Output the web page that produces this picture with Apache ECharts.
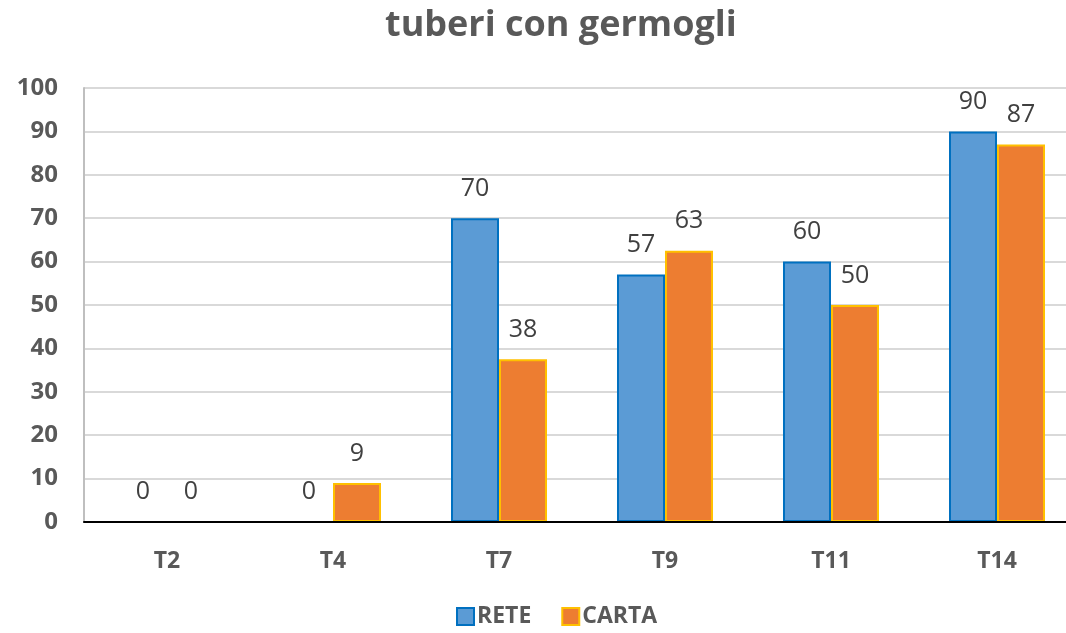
<!DOCTYPE html>
<html>
<head>
<meta charset="utf-8">
<script src="https://cdn.jsdelivr.net/npm/echarts@6/dist/echarts.min.js"></script>
<style>
  html, body {margin: 0; padding: 0; background: #fff; overflow: hidden;}
  #chart {width: 1080px; height: 633px;}
</style>
</head>
<body>
<div id="chart"></div>
<script>
const categories = ['T2', 'T4', 'T7', 'T9', 'T11', 'T14']
const reteValues = [0, 0, 70, 57, 60, 90]
const cartaValues = [0, 9, 37.5, 62.5, 50, 87]
const yTicks = [0, 10, 20, 30, 40, 50, 60, 70, 80, 90, 100]

const font = '"Open Sans", "Liberation Sans", sans-serif'
const labelColor = '#595959'

const barLabel = {
  show: true,
  position: 'top',
  distance: 17,
  color: '#404040',
  fontSize: 25,
  fontFamily: font,
  formatter: p => Math.round(p.value)
}

// plot area runs a little past the right edge of the window, as in the original
const chart = echarts.init(document.getElementById('chart'))
chart.setOption({
  backgroundColor: '#fff',
  animation: false,
  title: {
    text: 'tuberi con germogli',
    left: 380,
    top: 3,
    textStyle: {color: labelColor, fontSize: 36, fontWeight: 'bold', fontFamily: font}
  },
  legend: {
    bottom: 0,
    left: 451,
    itemWidth: 17,
    itemHeight: 17,
    itemGap: 30,
    icon: 'rect',
    textStyle: {color: labelColor, fontSize: 23, fontWeight: 'bold', fontFamily: font, padding: [0, 0, 0, -2]},
    data: ['RETE', 'CARTA']
  },
  grid: {left: 84, right: 0, top: 88, bottom: 111},
  xAxis: {
    type: 'category',
    data: categories,
    z: 5,
    axisLine: {lineStyle: {color: '#000', width: 2}},
    axisTick: {show: false},
    axisLabel: {color: labelColor, fontSize: 23, fontWeight: 'bold', fontFamily: font, margin: 28}
  },
  yAxis: {
    type: 'value',
    min: yTicks[0],
    max: yTicks[yTicks.length - 1],
    interval: 10,
    axisLine: {show: true, lineStyle: {color: '#bfbfbf', width: 2}},
    axisTick: {show: false},
    splitLine: {lineStyle: {color: '#d9d9d9', width: 2}},
    axisLabel: {color: labelColor, fontSize: 24, fontWeight: 'bold', fontFamily: font, margin: 26}
  },
  series: [
    {
      name: 'RETE',
      type: 'bar',
      data: reteValues,
      barWidth: 48,
      barGap: '0%',
      itemStyle: {color: '#5B9BD5', borderColor: '#0070C0', borderWidth: 2},
      label: barLabel
    },
    {
      name: 'CARTA',
      type: 'bar',
      data: cartaValues,
      barWidth: 48,
      itemStyle: {color: '#ED7D31', borderColor: '#FFC000', borderWidth: 2},
      label: barLabel
    }
  ]
})
</script>
</body>
</html>
